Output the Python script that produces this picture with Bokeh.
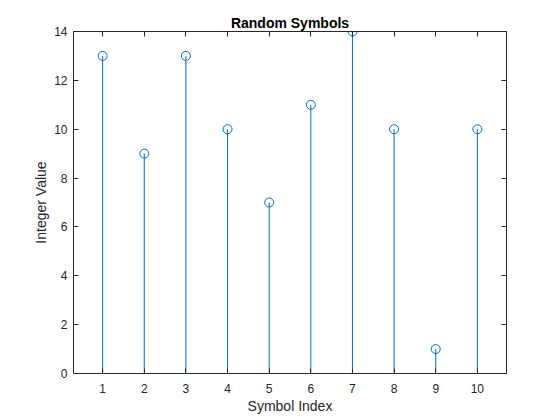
from bokeh.plotting import figure
from bokeh.models import LinearAxis, Range1d, FixedTicker, CustomJSTickFormatter
from bokeh.embed import file_html
from bokeh.resources import INLINE

symbol_index = [1, 2, 3, 4, 5, 6, 7, 8, 9, 10]
integer_value = [13, 9, 13, 10, 7, 11, 14, 10, 1, 10]
x_ticks = [1, 2, 3, 4, 5, 6, 7, 8, 9, 10]
y_ticks = [0, 2, 4, 6, 8, 10, 12, 14]

AX = "#262626"
BLUE = "#0072BD"
FONT = "Liberation Sans"

p = figure(frame_width=433, frame_height=342, output_backend="svg", toolbar_location=None,
           x_range=Range1d(0.3, 10.7), y_range=Range1d(0, 14),
           min_border_left=73, min_border_right=46, min_border_top=31, min_border_bottom=39,
           x_axis_location=None, y_axis_location=None,
           title="Random Symbols")
p.background_fill_color = "white"
p.border_fill_color = "white"
p.outline_line_color = None
p.xgrid.visible = False
p.ygrid.visible = False
p.title.align = "center"
p.title.text_font = FONT
p.title.text_font_size = "14px"
p.title.text_font_style = "bold"
p.title.text_color = "black"
p.title.standoff = 2

def style(ax, labels=True):
    ax.axis_line_color = AX
    ax.axis_line_width = 1
    ax.major_tick_line_color = AX
    ax.major_tick_in = 5
    ax.major_tick_out = 0
    ax.minor_tick_line_color = None
    ax.major_label_text_color = AX
    ax.major_label_text_font = FONT
    ax.major_label_text_font_size = "12px"
    ax.axis_label_text_color = AX
    ax.axis_label_text_font = FONT
    ax.axis_label_text_font_size = "14px"
    ax.axis_label_text_font_style = "normal"
    if not labels:
        ax.formatter = CustomJSTickFormatter(code="return ''")
        ax.major_label_text_font_size = "1px"
        ax.major_label_standoff = 0

xb = LinearAxis(ticker=FixedTicker(ticks=x_ticks), axis_label="Symbol Index")
style(xb)
xb.major_label_standoff = 10
xb.axis_label_standoff = 2
p.add_layout(xb, "below")

yl = LinearAxis(ticker=FixedTicker(ticks=y_ticks), axis_label="Integer Value")
style(yl)
yl.major_label_standoff = 6
yl.axis_label_standoff = 2
p.add_layout(yl, "left")

xt = LinearAxis(ticker=FixedTicker(ticks=x_ticks))
style(xt, labels=False)
p.add_layout(xt, "above")

yr = LinearAxis(ticker=FixedTicker(ticks=y_ticks))
style(yr, labels=False)
p.add_layout(yr, "right")

zeros = [0] * len(symbol_index)
p.segment(x0=symbol_index, y0=zeros, x1=symbol_index, y1=integer_value,
          line_color=BLUE, line_width=1)
p.scatter(x=symbol_index, y=integer_value, marker="circle", size=9,
          fill_color=None, line_color=BLUE, line_width=1)

open("out.html", "w").write(file_html(p, INLINE))
